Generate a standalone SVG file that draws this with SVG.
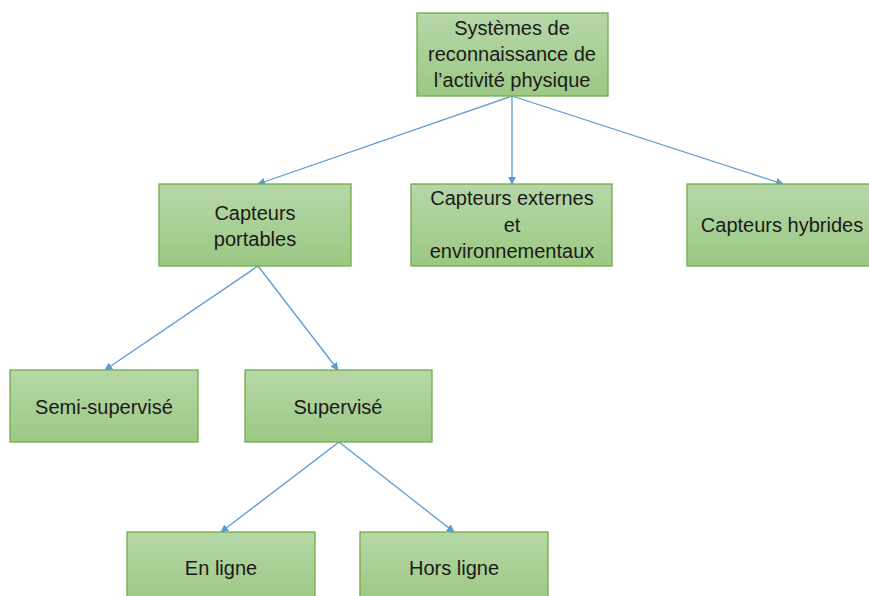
<svg xmlns="http://www.w3.org/2000/svg" width="869" height="596" viewBox="0 0 869 596">
<defs>
<linearGradient id="g" x1="0" y1="0" x2="0" y2="1">
<stop offset="0" stop-color="#b6d7a8"/>
<stop offset="1" stop-color="#9cc883"/>
</linearGradient>
<marker id="arr" viewBox="0 0 10 10" refX="9" refY="5" markerWidth="8" markerHeight="8" orient="auto" markerUnits="userSpaceOnUse">
<path d="M0,0 L10,5 L0,10 z" fill="#5b9bd5"/>
</marker>
</defs>
<style>
.box{fill:url(#g);stroke:#70ad47;stroke-width:1.3}
.t{font-family:"Liberation Sans",Arial,sans-serif;font-size:20px;fill:#1a1a1a;text-anchor:middle;dominant-baseline:central}
.c{stroke:#5b9bd5;stroke-width:1.3;fill:none;marker-end:url(#arr)}
</style>
<g id="connectors">
<line class="c" x1="512" y1="96" x2="258" y2="184"/>
<line class="c" x1="512" y1="96" x2="512" y2="184"/>
<line class="c" x1="512" y1="96" x2="783" y2="184"/>
<line class="c" x1="258" y1="266" x2="105" y2="370"/>
<line class="c" x1="258" y1="266" x2="338" y2="370"/>
<line class="c" x1="339" y1="442" x2="221" y2="532"/>
<line class="c" x1="339" y1="442" x2="454" y2="532"/>
</g>
<g id="root">
<rect class="box" x="417" y="13" width="191" height="83"/>
<text class="t" x="512" y="28">Systèmes de</text>
<text class="t" x="512" y="54">reconnaissance de</text>
<text class="t" x="512" y="80">l’activité physique</text>
</g>
<g id="portables">
<rect class="box" x="159" y="184" width="192" height="82"/>
<text class="t" x="255" y="213">Capteurs</text>
<text class="t" x="255" y="239">portables</text>
</g>
<g id="externes">
<rect class="box" x="411" y="184" width="201" height="82"/>
<text class="t" x="512" y="198">Capteurs externes</text>
<text class="t" x="512" y="225">et</text>
<text class="t" x="512" y="251">environnementaux</text>
</g>
<g id="hybrides">
<rect class="box" x="687" y="184" width="185" height="82"/>
<text class="t" x="782" y="225">Capteurs hybrides</text>
</g>
<g id="semi">
<rect class="box" x="10" y="370" width="188" height="72"/>
<text class="t" x="104" y="407">Semi-supervisé</text>
</g>
<g id="supervise">
<rect class="box" x="245" y="370" width="187" height="72"/>
<text class="t" x="338" y="407">Supervisé</text>
</g>
<g id="enligne">
<rect class="box" x="127" y="532" width="188" height="70"/>
<text class="t" x="221" y="568">En ligne</text>
</g>
<g id="horsligne">
<rect class="box" x="360" y="532" width="188" height="70"/>
<text class="t" x="454" y="568">Hors ligne</text>
</g>
</svg>
